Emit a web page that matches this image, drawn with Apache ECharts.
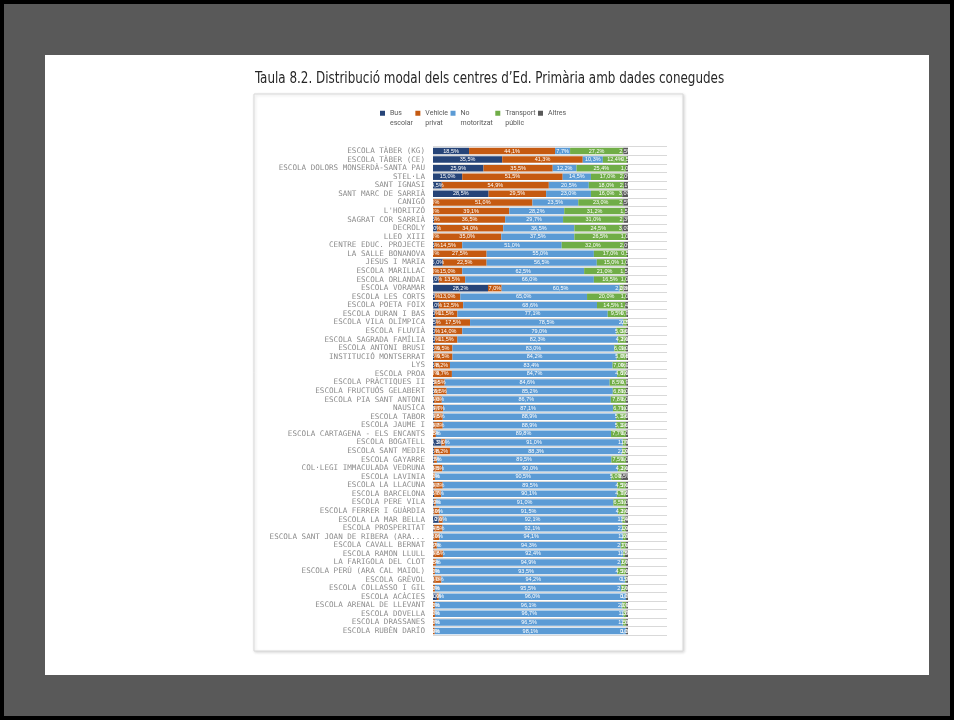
<!DOCTYPE html>
<html><head><meta charset="utf-8">
<script src="https://cdn.jsdelivr.net/npm/echarts@6/dist/echarts.min.js"></script>
<style>html,body{margin:0;padding:0;background:#000;}#c{width:954px;height:720px;}</style>
</head><body><div id="c"></div>
<script>
const categories = ["ESCOLA TÀBER (KG)","ESCOLA TÀBER (CE)","ESCOLA DOLORS MONSERDÀ-SANTA PAU","STEL·LA","SANT IGNASI","SANT MARC DE SARRIÀ","CANIGÓ","L'HORITZÓ","SAGRAT COR SARRIÀ","DECROLY","LLEO XIII","CENTRE EDUC. PROJECTE","LA SALLE BONANOVA","JESUS I MARIA","ESCOLA MARILLAC","ESCOLA ORLANDAI","ESCOLA VORAMAR","ESCOLA LES CORTS","ESCOLA POETA FOIX","ESCOLA DURAN I BAS","ESCOLA VILA OLÍMPICA","ESCOLA FLUVIÀ","ESCOLA SAGRADA FAMÍLIA","ESCOLA ANTONI BRUSI","INSTITUCIÓ MONTSERRAT","LYS","ESCOLA PROA","ESCOLA PRÀCTIQUES II","ESCOLA FRUCTUÓS GELABERT","ESCOLA PIA SANT ANTONI","NAUSICA","ESCOLA TABOR","ESCOLA JAUME I","ESCOLA CARTAGENA - ELS ENCANTS","ESCOLA BOGATELL","ESCOLA SANT MEDIR","ESCOLA GAYARRE","COL·LEGI IMMACULADA VEDRUNA","ESCOLA LAVINIA","ESCOLA LA LLACUNA","ESCOLA BARCELONA","ESCOLA PERE VILA","ESCOLA FERRER I GUÀRDIA","ESCOLA LA MAR BELLA","ESCOLA PROSPERITAT","ESCOLA SANT JOAN DE RIBERA (ARA...","ESCOLA CAVALL BERNAT","ESCOLA RAMON LLULL","LA FARIGOLA DEL CLOT","ESCOLA PERÚ (ARA CAL MAIOL)","ESCOLA GRÈVOL","ESCOLA COLLASSO I GIL","ESCOLA ACÀCIES","ESCOLA ARENAL DE LLEVANT","ESCOLA DOVELLA","ESCOLA DRASSANES","ESCOLA RUBÈN DARÍO"];

const busEscolar = [18.5,35.5,25.9,15.0,4.5,28.5,0,0,0.5,2.0,0,0.5,0,5.0,0,3.0,28.2,1.0,3.0,1.0,1.5,1.0,1.0,0.5,0.5,0.5,0,0.5,0.5,0.5,0.5,0.5,0.3,0,4.3,0.5,0.5,0.3,0,0.3,0.5,0.5,0.3,3.0,0.4,0.3,0.3,0.3,0,0,0.3,0,2.0,0,0,0,0];
const vehiclePrivat = [44.1,41.3,35.5,51.5,54.9,29.5,51.0,39.1,36.5,34.0,35.0,14.5,27.5,22.5,15.0,13.5,7.0,13.0,12.5,11.5,17.5,14.0,11.5,9.5,9.5,8.2,9.7,5.5,6.5,4.0,4.7,4.5,4.7,1.5,2.0,8.2,1.5,4.5,1.0,4.7,3.7,1.0,3.0,2.0,4.5,3.0,1.7,4.8,1.5,1.0,4.0,1.0,1.0,1.0,1.0,1.0,0.9];
const noMotoritzat = [7.7,10.3,12.2,14.5,20.5,23.0,23.5,28.2,29.7,36.5,37.5,51.0,55.0,56.5,62.5,66.0,60.5,65.0,68.6,77.1,78.5,79.0,82.3,83.0,84.2,83.4,84.7,84.6,85.2,86.7,87.1,88.9,88.9,89.8,91.0,88.3,89.5,90.0,90.5,89.5,90.1,91.0,91.5,92.1,92.1,94.1,94.3,92.4,94.9,93.5,94.2,95.5,96.0,96.1,96.7,96.5,98.1];
const transportPublic = [27.2,12.4,25.4,17.0,18.0,16.0,23.0,31.2,31.0,24.5,26.5,32.0,17.0,15.0,21.0,16.5,2.0,20.0,14.5,9.5,2.0,5.0,4.2,6.0,5.0,7.0,4.6,8.5,6.8,7.8,6.7,5.1,5.1,7.7,1.7,2.0,7.5,4.2,5.0,4.5,4.7,6.5,4.2,1.5,2.0,1.6,2.7,1.0,2.6,4.5,0.5,2.5,0,2.0,1.3,1.5,0];
const altres = [2.5,0.5,1.0,2.0,2.1,3.0,2.5,1.5,2.3,3.0,1.0,2.0,0.5,1.0,1.5,1.0,2.3,1.0,1.4,0.9,0.5,1.0,1.0,1.0,0.8,0.9,1.0,0.9,1.0,1.0,1.0,1.0,1.0,1.0,1.0,1.0,1.0,1.0,3.5,1.0,1.0,1.0,1.0,1.4,1.0,1.0,1.0,1.5,1.0,1.0,1.0,1.0,1.0,0.9,1.0,1.0,1.0];

const seriesNames = ["Bus escolar","Vehicle privat","No motoritzat","Transport públic","Altres"];
const legendLabels = {"Bus escolar":"\nBus\nescolar","Vehicle privat":"\nVehicle\nprivat","No motoritzat":"\nNo\nmotoritzat","Transport públic":"\nTransport\npúblic","Altres":"Altres"};
const seriesData = [busEscolar, vehiclePrivat, noMotoritzat, transportPublic, altres];
const colors = ["#264478","#C55A11","#5B9BD5","#70AD47","#595959"];
const titleText = "Taula 8.2. Distribució modal dels centres d’Ed. Primària amb dades conegudes";

function fmt(v){ return (Math.round(v*10)/10).toFixed(1).replace('.',',') + '%'; }

const chart = echarts.init(document.getElementById('c'), null, {renderer:'canvas'});
chart.setOption({
  animation:false,
  backgroundColor:'#000000',
  graphic:[
    {type:'rect', z:-10, shape:{x:4,y:4,width:946,height:712}, style:{fill:'#595959'}, silent:true},
    {type:'rect', z:-9, shape:{x:45,y:55,width:884,height:620}, style:{fill:'#ffffff'}, silent:true},
    {type:'rect', z:-8, shape:{x:254,y:94,width:429,height:557}, style:{fill:'#ffffff', stroke:'#d9d9d9', lineWidth:1, shadowBlur:3, shadowColor:'rgba(0,0,0,0.15)', shadowOffsetX:1, shadowOffsetY:1}, silent:true},
    {type:'text', x:255, y:71, scaleX:0.83, silent:true,
     style:{text:titleText, x:0, y:0, verticalAlign:'top', font:"normal 16px 'Liberation Sans Narrow','DejaVu Sans Condensed','Roboto',sans-serif", fill:'#262626'}}
  ],
  legend:{
    left:380, top:99, padding:0, itemWidth:5, itemHeight:5, itemGap:2.5, icon:'rect',
    data:seriesNames,
    formatter:function(n){return legendLabels[n];},
    textStyle:{fontFamily:"'Liberation Sans Narrow','Roboto',sans-serif", fontSize:7, color:'#595959', lineHeight:9.5}
  },
  grid:{left:433, top:146.7, width:234, height:488.6, containLabel:false},
  xAxis:{type:'value', min:0, max:120, show:false},
  yAxis:{
    type:'category', data:categories, inverse:true,
    axisLine:{show:false}, axisTick:{show:false},
    splitLine:{show:true, interval:0, lineStyle:{color:'#d9d9d9', width:1}},
    axisLabel:{interval:0, fontFamily:"'DejaVu Sans Mono',monospace", fontSize:7.6, color:'#8c8c8c', margin:8}
  },
  series: seriesData.map((d,i)=>({
    name:seriesNames[i], type:'bar', stack:'total', data:d, barWidth:6.5,
    itemStyle:{color:colors[i]},
    label:{show:true, position:'inside', fontSize:5.5, color:'#ffffff', formatter:p=>fmt(p.value)}
  }))
});
</script></body></html>
